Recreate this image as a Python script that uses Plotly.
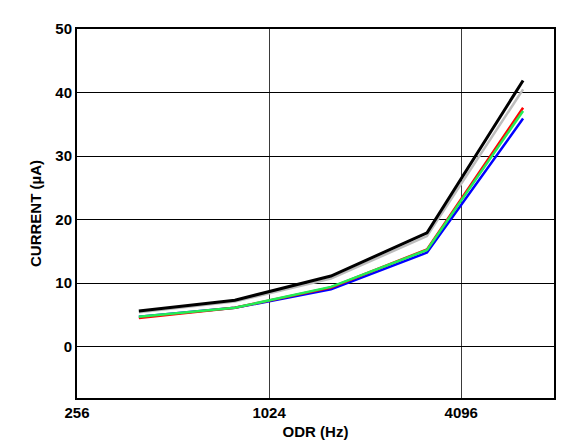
import math
import plotly.graph_objects as go

odr = [400, 800, 1600, 3200, 6400]
series_blue = [4.7, 6.1, 9.0, 14.8, 35.9]
series_red = [4.5, 6.1, 9.3, 15.3, 37.6]
series_green = [4.7, 6.1, 9.4, 15.2, 37.1]
series_gray = [5.4, 7.1, 10.7, 17.4, 40.5]
series_black = [5.6, 7.3, 11.1, 17.9, 41.9]

x_tickvals = [256, 1024, 4096]
x_ticktext = ["256", "1024", "4096"]
y_tickvals = [0, 10, 20, 30, 40, 50]

FONT = "Liberation Sans, Arial, sans-serif"

fig = go.Figure()
for vals, color, w in [
    (series_blue, "#0000ff", 2.5),
    (series_red, "#ff0000", 2.5),
    (series_green, "#22ee55", 2.5),
    (series_gray, "#bdbdbd", 2.5),
    (series_black, "#000000", 3),
]:
    fig.add_trace(go.Scatter(x=odr, y=vals, mode="lines",
                             line=dict(color=color, width=w),
                             showlegend=False))

fig.update_layout(
    width=574, height=442,
    margin=dict(l=69, r=28, t=12, b=48),
    paper_bgcolor="white", plot_bgcolor="white",
    font=dict(family=FONT, size=15, color="black"),
    xaxis=dict(
        type="log",
        range=[math.log10(256), math.log10(8000)],
        tickvals=x_tickvals, ticktext=x_ticktext,
        tickfont=dict(family=FONT, size=15, color="black", weight="bold"),
        showgrid=True, gridcolor="#3a3a3a", gridwidth=1.2,
        showline=True, linecolor="black", linewidth=2, mirror=True,
        ticks="", zeroline=False,
        title=dict(text="<b>ODR (Hz)</b>", font=dict(family=FONT, size=15), standoff=6),
    ),
    yaxis=dict(
        range=[-8.1, 50],
        tickvals=y_tickvals,
        tickfont=dict(family=FONT, size=15, color="black", weight="bold"),
        showgrid=True, gridcolor="black", gridwidth=1.2,
        showline=True, linecolor="black", linewidth=2, mirror=True,
        ticks="", zeroline=False,
        title=dict(text="<b>CURRENT (µA)</b>", font=dict(family=FONT, size=15), standoff=10),
    ),
    annotations=[dict(
        text="15430-030", textangle=-90, xref="paper", yref="paper",
        x=1.0, y=0.0, xshift=16, yshift=-44, xanchor="center", yanchor="bottom",
        borderpad=0,
        showarrow=False, font=dict(family=FONT, size=9.5, color="#333333"),
    )],
)

fig.write_html("out.html")
